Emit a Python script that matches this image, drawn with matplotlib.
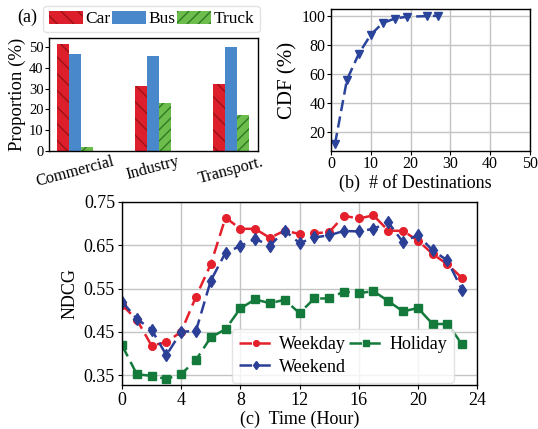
import matplotlib
matplotlib.use("Agg")
import matplotlib.pyplot as plt
import numpy as np

plt.rcParams['font.family'] = ['Liberation Serif', 'DejaVu Serif']
plt.rcParams['hatch.linewidth'] = 1.0

# ---------------- data ----------------
categories = ["Commercial", "Industry", "Transport."]
car = [51.5, 31.0, 32.0]
bus = [46.5, 45.5, 50.0]
truck = [2.0, 23.0, 17.5]

cdf_x = [1, 4, 7, 10, 13, 16, 19, 24, 27]
cdf_y = [12, 56, 74, 87, 95, 98, 99.3, 99.7, 100]

hours = list(range(24))
weekday = [0.512, 0.478, 0.418, 0.426, 0.450, 0.531, 0.606, 0.714, 0.688, 0.688,
           0.667, 0.684, 0.676, 0.678, 0.680, 0.718, 0.712, 0.719, 0.684, 0.683,
           0.661, 0.630, 0.606, 0.574]
weekend = [0.520, 0.480, 0.455, 0.396, 0.450, 0.452, 0.568, 0.633, 0.648, 0.665,
           0.649, 0.684, 0.655, 0.668, 0.673, 0.683, 0.682, 0.688, 0.703, 0.657,
           0.674, 0.638, 0.615, 0.546]
holiday = [0.419, 0.352, 0.348, 0.341, 0.352, 0.385, 0.437, 0.456, 0.504, 0.525,
           0.516, 0.524, 0.493, 0.527, 0.527, 0.543, 0.539, 0.544, 0.521, 0.497,
           0.505, 0.468, 0.468, 0.421]

W, H = 538, 429
fig = plt.figure(figsize=(W / 100, H / 100), dpi=100)

def rect(l, t, r, b):
    return [l / W, 1 - b / H, (r - l) / W, (b - t) / H]

# ---------------- (a) ----------------
axa = fig.add_axes(rect(49, 38, 258, 151))
x = np.arange(len(categories))
bw = 0.154
b1 = axa.bar(x - bw, car, bw, color='#dc1f2a', edgecolor='#9e1119', linewidth=0,
             hatch='\\\\', label='Car')
b2 = axa.bar(x, bus, bw, color='#4a88cc', linewidth=0, label='Bus')
b3 = axa.bar(x + bw, truck, bw, color='#6cbd4c', edgecolor='#2f7a24', linewidth=0,
             hatch='///', label='Truck')
axa.set_xlim(-0.333, 2.346)
axa.set_ylim(0, 54.3)
axa.set_yticks([0, 10, 20, 30, 40, 50])
axa.set_xticks(x)
axa.set_xticklabels(categories, rotation=15, ha='center', fontsize=11.7)
axa.tick_params(axis='y', labelsize=10.5, length=3, pad=1)
axa.tick_params(axis='x', length=0, pad=2)
axa.set_ylabel("Proportion (%)", fontsize=13.5, labelpad=2)
for s in axa.spines.values():
    s.set_linewidth(1.0)
leg_a = fig.legend(handles=[b1, b2, b3], loc='center',
                   bbox_to_anchor=((45 + 258) / 2 / W, 1 - 19 / H), ncol=3,
                   fontsize=12.5, handlelength=1.95, handleheight=0.75,
                   handletextpad=0.15, columnspacing=0.1, borderpad=0.3,
                   frameon=True, fancybox=True, edgecolor='#dddddd')
fig.text(17 / W, 1 - 17 / H, "(a)", fontsize=13, va='center', ha='left')

# ---------------- (b) ----------------
axb = fig.add_axes(rect(331, 9.3, 530, 151))
axb.plot(cdf_x, cdf_y, linestyle='--', color='#2a449b', marker='v', markersize=5.5,
         linewidth=1.8, dashes=(4.5, 2.2))
axb.set_xlim(0, 50)
axb.set_ylim(7.2, 104.4)
axb.set_xticks([0, 10, 20, 30, 40, 50])
axb.set_yticks([20, 40, 60, 80, 100])
axb.grid(True, color='#c4c4c4', linewidth=1.0)
axb.set_axisbelow(True)
axb.tick_params(labelsize=11.5, length=3, pad=1)
axb.tick_params(axis='x', pad=0.5)
axb.set_ylabel("CDF (%)", fontsize=15, labelpad=3)
for s in axb.spines.values():
    s.set_linewidth(1.0)
fig.text(415 / W, 1 - 183 / H, "(b)  # of Destinations", fontsize=13,
         ha='center', va='center')

# ---------------- (c) ----------------
axc = fig.add_axes(rect(122, 202, 477, 385))
dsh = (5, 2.5)
l1, = axc.plot(hours, weekday, '--', color='#e3202b', marker='o', markersize=5.5,
               linewidth=1.8, dashes=dsh, label='Weekday')
l2, = axc.plot(hours, weekend, '--', color='#2b3f97', marker='d', markersize=6,
               linewidth=1.8, dashes=dsh, label='Weekend')
l3, = axc.plot(hours, holiday, '--', color='#137a3b', marker='s', markersize=5.5,
               linewidth=1.8, dashes=dsh, label='Holiday')
axc.set_xlim(0, 24)
axc.set_ylim(0.327, 0.75)
axc.set_xticks([0, 4, 8, 12, 16, 20, 24])
axc.set_yticks([0.35, 0.45, 0.55, 0.65, 0.75])
axc.set_yticklabels(["0.35", "0.45", "0.55", "0.65", "0.75"])
axc.grid(True, color='#c4c4c4', linewidth=1.0)
axc.set_axisbelow(True)
axc.tick_params(labelsize=13, length=3, pad=2)
axc.set_ylabel("NDCG", fontsize=13, labelpad=4)
axc.set_xlabel("(c)  Time (Hour)", fontsize=13, labelpad=1)
for s in axc.spines.values():
    s.set_linewidth(1.0)
leg_c = axc.legend(handles=[l1, l2, l3], ncol=2, loc='lower right',
                   bbox_to_anchor=(454 / W, 1 - 383 / H),
                   bbox_transform=fig.transFigure, borderaxespad=0,
                   fontsize=13, markerscale=0.75, handlelength=1.85,
                   handletextpad=0.35, columnspacing=0.2, borderpad=0.4,
                   labelspacing=0.3, framealpha=0.8, edgecolor='#dddddd')

fig.savefig("out.png", dpi=100)
